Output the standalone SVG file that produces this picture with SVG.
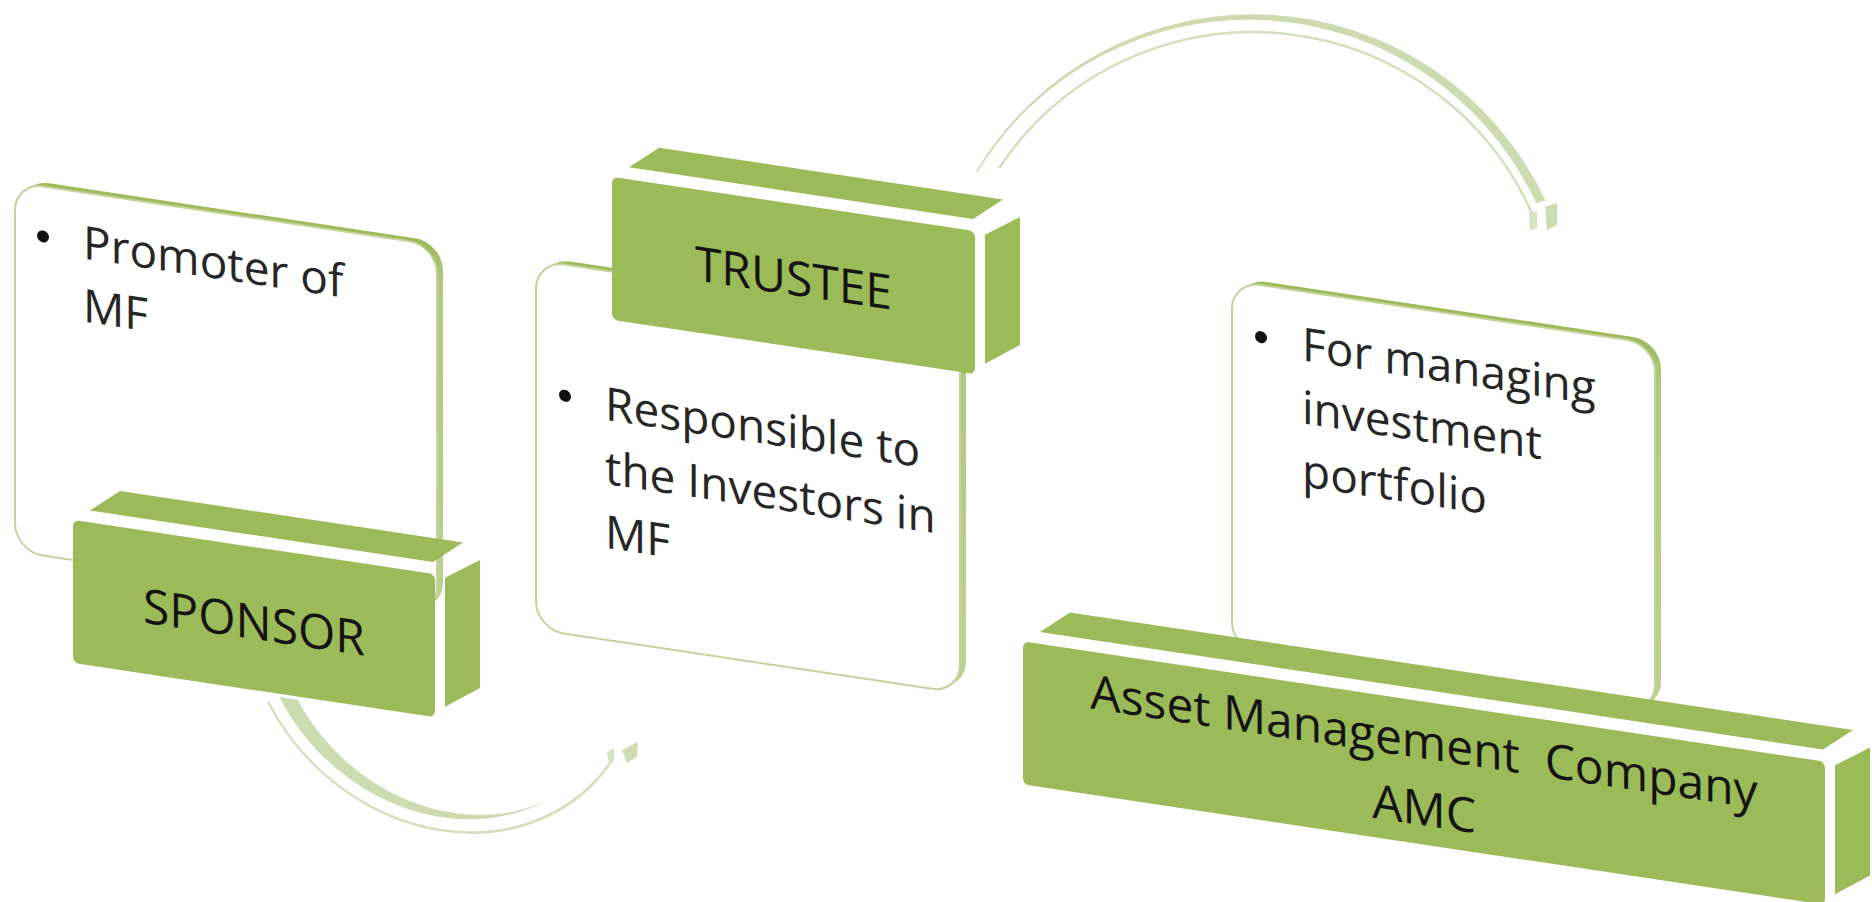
<svg xmlns="http://www.w3.org/2000/svg" width="1872" height="902" viewBox="0 0 1872 902">
  <style>
    .rim { fill: url(#rimGrad); }
    .card { fill: #ffffff; stroke: #c0d49b; stroke-width: 2; }
    .face { fill: #9bbb59; }
    .label { font-family: "Open Sans", "Liberation Sans", sans-serif; font-size: 48px; fill: #141414; text-anchor: middle; }
    .note { font-family: "Open Sans", "Liberation Sans", sans-serif; font-size: 46px; fill: #262626; }
    .dot { fill: #111111; }
    .arc-band { fill: #cddbb1; }
    .arc-line { fill: none; stroke: #d3e0bc; stroke-width: 2.5; }
    .arc-tip { fill: #d6e2c0; }
  </style>
  <defs>
    <!-- darker top rim fading into a lighter right rim on the cards -->
    <linearGradient id="rimGrad" x1="0" y1="0" x2="0" y2="1">
      <stop offset="0" stop-color="#9bbb59"/>
      <stop offset="0.1" stop-color="#b0c87e"/>
      <stop offset="1" stop-color="#bdd293"/>
    </linearGradient>
  </defs>

  <!-- curved arrows between the stages -->
  <g id="connectors">
    <g transform="matrix(1 0.15 0 1 0 0)">
      <path class="arc-band" d="M279.3,655.2 A186,186 0 0 0 546.4,718.9 A179.9,179.9 0 0 1 297.5,655 Z"/>
      <path class="arc-line" d="M268,661.5 A199,199 0 0 0 612.6,667.5"/>
      <polygon class="arc-band" points="622,657 638,646 637,661 627,669"/>
      <polygon class="arc-tip" points="607,661 614,656 614,668 609,671"/>
    </g>
    <path class="arc-band" d="M976.4,170.8 A322.7,322.7 0 0 1 1545.5,200.6 L1536.1,202.9 A317.3,317.3 0 0 0 976.5,173.6 Z"/>
    <path class="arc-line" d="M999,168.2 A305,305 0 0 1 1536.8,225.2"/>
    <polygon class="arc-band" points="1545,207 1557,203 1557,225 1547,230"/>
    <polygon class="arc-tip" points="1529,214 1537,211 1537,228 1530,230"/>
  </g>

  <!-- SPONSOR: note card with block label -->
  <g id="sponsor" transform="matrix(1 0.15 0 1 0 0)">
    <rect class="rim" x="21" y="176" width="422" height="369" rx="28"/>
    <rect class="card" x="15" y="180" width="422" height="369" rx="28"/>
    <circle class="dot" cx="43" cy="230" r="6"/>
    <text class="note" x="83" y="246">Promoter of<tspan x="83" dy="63">MF</tspan></text>
    <polygon class="face" points="90,497 433,497 463,473 120,473"/>
    <polygon class="face" points="445,511 445,640 480,616 480,488"/>
    <rect class="face" x="73" y="509" width="362" height="143" rx="6"/>
    <text class="label" x="254" y="601">SPONSOR</text>
  </g>

  <!-- TRUSTEE: block label on top of its note card -->
  <g id="trustee" transform="matrix(1 0.15 0 1 0 0)">
    <rect class="rim" x="542" y="176" width="424" height="369" rx="28"/>
    <rect class="card" x="536" y="180" width="424" height="369" rx="28"/>
    <circle class="dot" cx="565" cy="311" r="6"/>
    <text class="note" x="605" y="329">Responsible to<tspan x="605" dy="64">the Investors in</tspan><tspan x="605" dy="64">MF</tspan></text>
    <polygon class="face" points="629,73 973,73 1003,49 659,49"/>
    <polygon class="face" points="985,87 985,216 1020,192 1020,64"/>
    <rect class="face" x="612" y="85" width="363" height="143" rx="6"/>
    <text class="label" x="793.5" y="176">TRUSTEE</text>
  </g>

  <!-- AMC: note card with wide block label -->
  <g id="amc" transform="matrix(1 0.15 0 1 0 0)">
    <rect class="rim" x="1238" y="92" width="423" height="369" rx="28"/>
    <rect class="card" x="1232" y="96" width="423" height="369" rx="28"/>
    <circle class="dot" cx="1261" cy="148" r="6"/>
    <text class="note" x="1302" y="165">For managing<tspan x="1302" dy="63">investment</tspan><tspan x="1302" dy="63">portfolio</tspan></text>
    <polygon class="face" points="1040,476 1823,476 1853,452 1070,452"/>
    <polygon class="face" points="1835,490 1835,619 1870,595 1870,467"/>
    <rect class="face" x="1023" y="488" width="802" height="143" rx="6"/>
    <text class="label" x="1424" y="545" xml:space="preserve">Asset Management  Company</text>
    <text class="label" x="1424" y="612">AMC</text>
  </g>
</svg>
